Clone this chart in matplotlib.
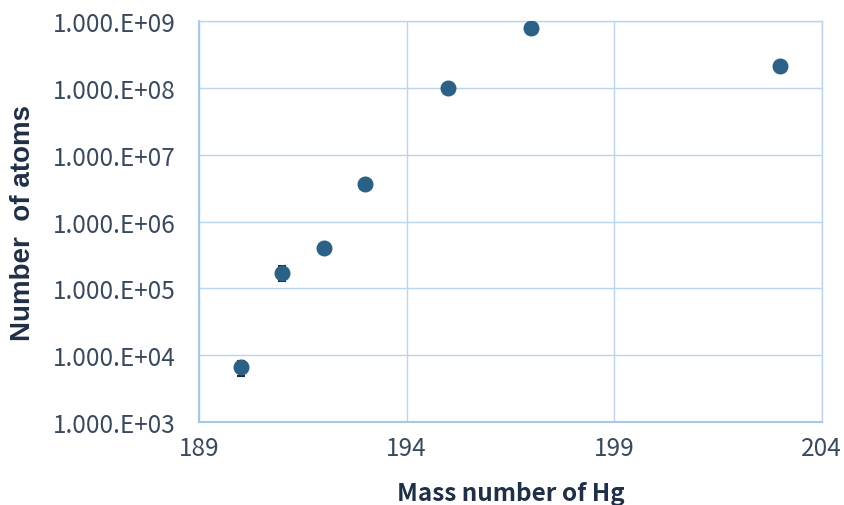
import numpy as np
import matplotlib
matplotlib.use("Agg")
from matplotlib import pyplot as plt
from matplotlib.ticker import FuncFormatter, FixedLocator

mass = [190, 191, 192, 193, 195, 197, 203]
atoms = [6.6e3, 1.72e5, 4.0e5, 3.6e6, 1.0e8, 7.9e8, 2.1e8]
err = [1.7e3, 4.4e4, 3.0e4, 2.0e5, 4.0e6, 2.5e7, 8.0e6]

x_ticks = [189, 194, 199, 204]
y_ticks = [1e3, 1e4, 1e5, 1e6, 1e7, 1e8, 1e9]

text_col = "#1f2f45"
grid_col = "#bcd5ee"

plt.rcParams['font.family'] = ['Noto Sans CJK JP', 'DejaVu Sans']

fig = plt.figure(figsize=(8.45, 5.06), dpi=100)
ax = fig.add_axes([0.2355, 0.164, 0.737, 0.7925])

ax.errorbar(mass, atoms, yerr=err, fmt='none', ecolor='#1a2a3a', elinewidth=1.5,
            capsize=3, capthick=1.5, zorder=3)
ax.plot(mass, atoms, 'o', color='#2b6186', markersize=10.5,
        markeredgecolor='#2b6186', zorder=4)

ax.set_yscale('log')
ax.set_xlim(189, 204)
ax.set_ylim(1e3, 1e9)
ax.xaxis.set_major_locator(FixedLocator(x_ticks))
ax.yaxis.set_major_locator(FixedLocator(y_ticks))
ax.yaxis.set_minor_locator(FixedLocator([]))
ax.yaxis.set_major_formatter(FuncFormatter(lambda v, p: "1.000.E+%02d" % int(round(np.log10(v)))))

ax.grid(True, color=grid_col, linewidth=1.0)
ax.set_axisbelow(True)
for s in ax.spines.values():
    s.set_color(grid_col)
    s.set_linewidth(1.0)
ax.spines['left'].set_color('#a8c6e6')
ax.spines['bottom'].set_color('#a8c6e6')
ax.spines['left'].set_linewidth(1.5)
ax.spines['bottom'].set_linewidth(1.5)

ax.tick_params(axis='both', length=0, labelsize=17.5, labelcolor='#3a4a5e')
ax.tick_params(axis='x', pad=9)
ax.tick_params(axis='y', pad=17)

ax.set_xlabel("Mass number of Hg", fontsize=17.5, fontweight='bold', color=text_col, labelpad=15)
ax.set_ylabel("Number  of atoms", fontsize=20, fontweight='bold', color=text_col,
              family=['Liberation Sans', 'DejaVu Sans'], labelpad=12)

fig.savefig("out.png", dpi=100)
